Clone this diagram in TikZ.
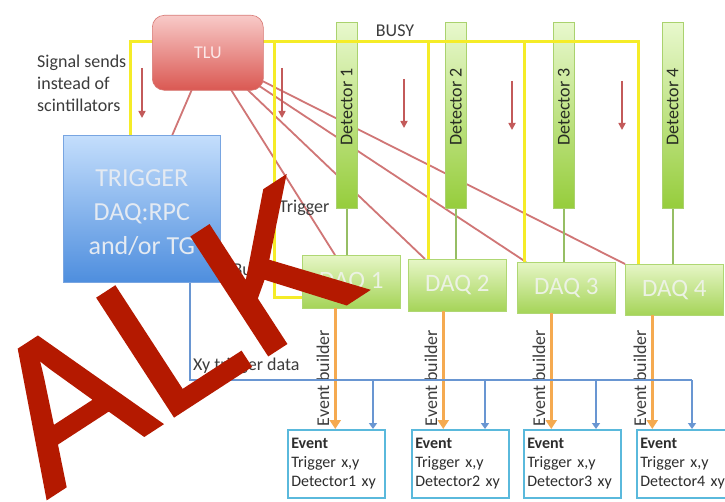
\documentclass[tikz,border=0pt]{standalone}
\usepackage{fontspec}
\setmainfont{Carlito}
\newfontfamily\alkfont[FakeBold=2]{Liberation Sans}
\usetikzlibrary{arrows.meta,shadings,calc}
\pgfdeclarelayer{background}
\pgfdeclarelayer{foreground}
\pgfsetlayers{background,main,foreground}

\definecolor{yel}{RGB}{245,236,40}
\definecolor{redln}{RGB}{208,118,118}
\definecolor{redarr}{RGB}{195,90,90}
\definecolor{grnln}{RGB}{150,190,100}
\definecolor{blueln}{RGB}{105,150,210}
\definecolor{orangeln}{RGB}{245,170,80}
\definecolor{evborder}{RGB}{90,185,220}
\definecolor{alkred}{RGB}{180,25,0}
\definecolor{txtgrey}{RGB}{60,60,60}
\definecolor{lighttxt}{RGB}{228,234,242}

\tikzset{
 lbl/.style={font=\fontsize{18}{22}\selectfont, text=txtgrey, inner sep=0pt},
 tlubox/.style={rounded corners=12pt, top color={rgb,255:red,248;green,202;blue,200}, bottom color={rgb,255:red,218;green,88;blue,82}, draw={rgb,255:red,215;green,120;blue,115}, line width=0.6pt, minimum width=111pt, minimum height=75pt, anchor=north west, inner sep=0pt, font=\fontsize{18}{22}\selectfont, text={rgb,255:red,252;green,232;blue,232}},
 trigbox/.style={top color={rgb,255:red,196;green,222;blue,252}, bottom color={rgb,255:red,78;green,142;blue,222}, draw={rgb,255:red,120;green,165;blue,225}, line width=0.6pt, minimum width=157pt, minimum height=147pt, anchor=north west, inner sep=0pt},
 bigtxt/.style={font=\fontsize{26}{34}\selectfont, text=lighttxt, align=center, inner sep=0pt},
 detbar/.style={top color={rgb,255:red,232;green,248;blue,205}, bottom color={rgb,255:red,150;green,205;blue,60}, draw={rgb,255:red,170;green,210;blue,110}, line width=0.5pt, minimum width=21pt, minimum height=186pt, anchor=north west, inner sep=0pt},
 dettxt/.style={font=\fontsize{18}{22}\selectfont, text={rgb,255:red,40;green,45;blue,35}, inner sep=0pt, rotate=90},
 daqbox/.style={top color={rgb,255:red,230;green,246;blue,198}, bottom color={rgb,255:red,165;green,212;blue,88}, draw={rgb,255:red,175;green,215;blue,115}, line width=0.5pt, minimum width=98pt, anchor=north west, inner sep=0pt, font=\fontsize{25}{30}\selectfont, text={rgb,255:red,236;green,242;blue,228}},
 evbox/.style={draw=evborder, line width=1.6pt, fill=white, minimum width=97pt, minimum height=68pt, anchor=north west, align=left, inner xsep=3.5pt, inner ysep=0pt, text width=90pt, font=\fontsize{16}{19}\selectfont, text={rgb,255:red,45;green,45;blue,45}},
 yelline/.style={draw=yel, line width=3pt},
 redline/.style={draw=redln, line width=1.8pt},
 grnline/.style={draw=grnln, line width=1.8pt},
 bluebus/.style={draw=blueln, line width=2pt},
 bluearrow/.style={draw=blueln, line width=2pt, -{Triangle[width=8pt,length=6pt]}},
 orarrow/.style={draw=orangeln, line width=2.6pt, -{Triangle[width=11pt,length=9pt]}},
 redarrow/.style={draw=redarr, line width=1.6pt, -{Triangle[width=7pt,length=7pt]}},
 ebtxt/.style={font=\fontsize{18}{22}\selectfont, text=txtgrey, inner sep=0pt, rotate=90, anchor=base},
}

\begin{document}
\begin{tikzpicture}[x=1pt,y=-1pt]
\useasboundingbox (0,0) rectangle (725,502);
\begin{pgfonlayer}{background}
\fill[white] (0,0) rectangle (725,502);
\end{pgfonlayer}

% trigger box
\node[trigbox] (trig) at (63,135) {};
\node[bigtxt] (trigtxt) at ([yshift=-4pt]trig.center) {TRIGGER\\DAQ:RPC\\and/or TG};

% detectors
\node[detbar] (det1) at (336,22) {};
\node[detbar] (det2) at (445,22) {};
\node[detbar] (det3) at (553,22) {};
\node[detbar] (det4) at (662,22) {};
\node[dettxt] (dl1) at ([yshift=-85pt]det1.north) {Detector 1};
\node[dettxt] (dl2) at ([yshift=-85pt]det2.north) {Detector 2};
\node[dettxt] (dl3) at ([yshift=-85pt]det3.north) {Detector 3};
\node[dettxt] (dl4) at ([yshift=-85pt]det4.north) {Detector 4};

% DAQ boxes
\node[daqbox, minimum height=53pt] (daq1) at (302,255) {DAQ 1};
\node[daqbox, minimum height=52pt] (daq2) at (408,259) {DAQ 2};
\node[daqbox, minimum height=51pt] (daq3) at (517,262) {DAQ 3};
\node[daqbox, minimum height=51pt] (daq4) at (625,264) {DAQ 4};

% event boxes
\node[evbox] (ev1) at (287,429) {\textbf{Event}\\Trigger x,y\\Detector1 xy};
\node[evbox] (ev2) at (411,429) {\textbf{Event}\\Trigger x,y\\Detector2 xy};
\node[evbox] (ev3) at (523,429) {\textbf{Event}\\Trigger x,y\\Detector3 xy};
\node[evbox] (ev4) at (636,429) {\textbf{Event}\\Trigger x,y\\Detector4 xy};

% BUSY lines (yellow)
\coordinate (busyL) at ([xshift=67pt]trig.north west);
\coordinate (busyTop) at (130,42);
\coordinate (y4) at ([xshift=13pt]daq4.north west);
\coordinate (yb1) at (274,42);
\coordinate (y1) at ([yshift=11pt]daq1.south west);
\coordinate (y2) at ([xshift=20pt]daq2.north west);
\coordinate (y3) at ([xshift=7pt]daq3.north west);
\draw[yelline] (busyL) -- (busyTop) -| (y4);
\draw[yelline] (yb1) |- (y1);
\draw[yelline] (y2) -- (y2 |- busyTop);
\draw[yelline] (y3) -- (y3 |- busyTop);

% TLU
\node[tlubox] (tlu) at (152,15) {TLU};

% trigger lines from TLU (behind)
\begin{pgfonlayer}{background}
\draw[redline] ([xshift=-15.5pt,yshift=2pt]tlu.south) -- ([xshift=30.5pt]trig.north);
\draw[redline] ([xshift=22.5pt,yshift=2pt]tlu.south) -- ([xshift=33pt]daq1.north west);
\draw[redline] ([xshift=37.5pt,yshift=3pt]tlu.south) -- ([xshift=17pt]daq2.north west);
\draw[redline] ([xshift=-8pt,yshift=7pt]tlu.south east) -- ([xshift=9pt]daq3.north west);
\draw[redline] ([xshift=-8pt,yshift=13pt]tlu.south east) -- (daq4.north west);
\draw[grnline] (det1.south) -- (det1.south |- daq1.north);
\draw[grnline] (det2.south) -- (det2.south |- daq2.north);
\draw[grnline] (det3.south) -- (det3.south |- daq3.north);
\draw[grnline] (det4.south) -- (det4.south |- daq4.north);
\end{pgfonlayer}

% event builder arrows (orange)
\coordinate (o1) at ([xshift=-16pt]daq1.south);
\coordinate (o2) at ([xshift=-14pt]daq2.south);
\coordinate (o3) at ([xshift=-15pt]daq3.south);
\coordinate (o4) at ([xshift=-22pt]daq4.south);
\draw[orarrow] (o1) -- (o1 |- ev1.north);
\draw[orarrow] (o2) -- (o2 |- ev2.north);
\draw[orarrow] (o3) -- (o3 |- ev3.north);
\draw[orarrow] (o4) -- (o4 |- ev4.north);
\node[ebtxt] (eb1) at (329,378) {Event builder};
\node[ebtxt] (eb2) at (437,378) {Event builder};
\node[ebtxt] (eb3) at (545,378) {Event builder};
\node[ebtxt] (eb4) at (646,378) {Event builder};

% trigger data bus (blue)
\coordinate (b0) at ([xshift=48.5pt]trig.south);
\coordinate (bb1) at (373,380);
\coordinate (bb2) at (485,380);
\coordinate (bb3) at (596,380);
\coordinate (bb4) at (692,380);
\draw[bluebus] (b0) |- (bb4);
\draw[bluearrow] (bb1) -- (bb1 |- ev1.north);
\draw[bluearrow] (bb2) -- (bb2 |- ev2.north);
\draw[bluearrow] (bb3) -- (bb3 |- ev3.north);
\draw[bluearrow] (bb4) -- (bb4 |- ev4.north);

% small red signal arrows
\coordinate (ra1s) at (142,68);  \coordinate (ra1e) at (142,118);
\coordinate (ra2s) at (282,68);  \coordinate (ra2e) at (282,118);
\coordinate (ra3s) at (404,79);  \coordinate (ra3e) at (404,128);
\coordinate (ra4s) at (512,81);  \coordinate (ra4e) at (512,130);
\coordinate (ra5s) at (622,81);  \coordinate (ra5e) at (622,130);
\draw[redarrow] (ra1s) -- (ra1e);
\draw[redarrow] (ra2s) -- (ra2e);
\draw[redarrow] (ra3s) -- (ra3e);
\draw[redarrow] (ra4s) -- (ra4e);
\draw[redarrow] (ra5s) -- (ra5e);

% labels
\node[lbl, align=left, anchor=north west] (sig) at (37,54.5) {Signal sends\\instead of\\scintillators};
\node[lbl] (busylbl) at (395,31) {BUSY};
\node[lbl, anchor=base west] (triglbl) at (279,213) {Trigger};
\node[lbl, anchor=base east] (busy2) at (267,276) {Busy};
\node[lbl, anchor=base west] (xylbl) at (193,370) {Xy trigger data};

% watermark
\begin{pgfonlayer}{foreground}
\node[font=\alkfont\fontsize{202}{202}\selectfont, text=alkred, rotate=33, inner sep=0pt] (alk) at (170,335) {ALK};
\end{pgfonlayer}
\end{tikzpicture}
\end{document}
